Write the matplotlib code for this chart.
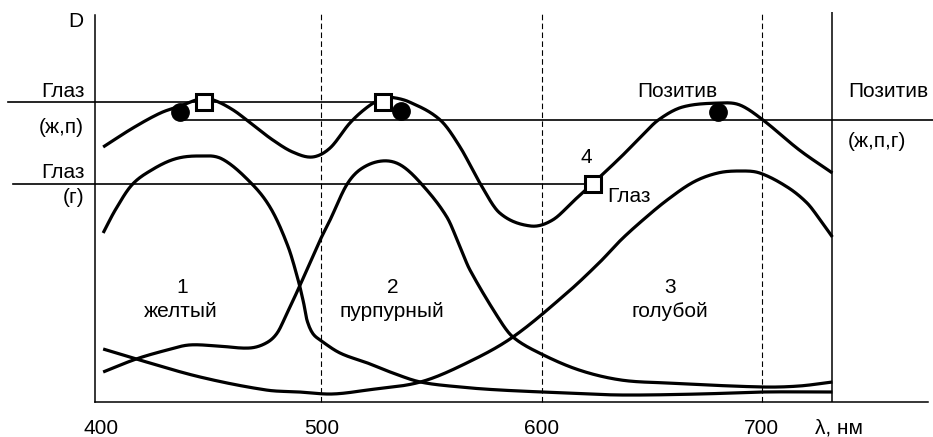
import numpy as np
import matplotlib
matplotlib.use('Agg')
import matplotlib.pyplot as plt

plt.rcParams['font.family'] = ['Liberation Sans', 'DejaVu Sans']
plt.rcParams['font.size'] = 15

# summary density of the positive (sum of the three dyes)
sum_wl = [401, 414.5, 427, 436, 445, 451, 460, 469, 478, 487, 496, 504, 513, 521, 528,
          531, 540, 554, 563, 572, 581, 595, 605, 615, 623, 636, 645, 653, 664, 681,
          690, 700.5, 717, 732]
sum_d = [2.55, 2.74, 2.89, 2.96, 3.03, 3.02, 2.92, 2.77, 2.62, 2.50, 2.45, 2.54, 2.79, 2.95, 3.04,
         3.05, 3.00, 2.82, 2.55, 2.19, 1.89, 1.76, 1.82, 2.02, 2.18, 2.45, 2.65, 2.82, 2.95, 2.99,
         2.97, 2.82, 2.52, 2.29]

# 1 - yellow dye
yel_wl = [401, 406.5, 414, 423, 433.5, 444, 455, 469, 477.5, 485, 489.5, 492, 493.5, 496,
          499.5, 508.5, 521, 532.5, 545, 563, 581, 611.5, 636, 672, 700.5, 732]
yel_d = [1.69, 1.92, 2.17, 2.32, 2.43, 2.46, 2.43, 2.17, 1.92, 1.55, 1.22, 0.99, 0.82, 0.69,
         0.62, 0.49, 0.39, 0.29, 0.20, 0.15, 0.12, 0.09, 0.07, 0.08, 0.10, 0.10]

# 2 - magenta dye
mag_wl = [401, 416, 430, 440, 453, 467.5, 475, 480, 484.5, 490, 499.5, 504, 511.5, 518, 527.5,
          536, 545.5, 557, 563, 567.5, 581, 587, 599, 617, 636, 657, 700.5, 717, 732]
mag_d = [0.30, 0.43, 0.52, 0.57, 0.56, 0.54, 0.59, 0.69, 0.89, 1.15, 1.62, 1.82, 2.17, 2.33, 2.41,
         2.37, 2.18, 1.85, 1.55, 1.32, 0.82, 0.65, 0.49, 0.32, 0.22, 0.19, 0.15, 0.16, 0.20]

# 3 - cyan dye
cyan_wl = [401, 416, 445, 475, 490, 505, 521, 545, 566, 587, 611.5, 626.5, 636, 646, 657,
           669, 680, 690, 699, 711.5, 720.5, 726.5, 732]
cyan_d = [0.53, 0.43, 0.25, 0.12, 0.10, 0.08, 0.12, 0.20, 0.39, 0.65, 1.09, 1.40, 1.62, 1.82, 2.02,
          2.20, 2.29, 2.31, 2.29, 2.15, 1.99, 1.82, 1.65]

# reference levels
eye_yp = 3.00      # Глаз (ж,п)
eye_c = 2.18       # Глаз (г)
positive = 2.82    # Позитив (ж,п,г)

sq_wl = [447, 528, 623.3]
sq_d = [3.00, 3.00, 2.18]
dot_wl = [436, 536, 680]
dot_d = [2.90, 2.91, 2.90]

tick_wl = [400, 500, 600, 700, 735]
tick_txt = ['400', '500', '600', '700', 'λ, нм']


def smooth(x, y, n=800):
    # cubic Hermite with finite-difference slopes, only to draw a smooth line through the points
    x = np.asarray(x, float)
    y = np.asarray(y, float)
    h = np.diff(x)
    m = np.empty_like(y)
    m[1:-1] = (y[2:] - y[:-2]) / (x[2:] - x[:-2])
    m[0] = (y[1] - y[0]) / h[0]
    m[-1] = (y[-1] - y[-2]) / h[-1]
    xs = np.linspace(x[0], x[-1], n)
    i = np.clip(np.searchsorted(x, xs) - 1, 0, len(h) - 1)
    t = (xs - x[i]) / h[i]
    ys = ((2 * t**3 - 3 * t**2 + 1) * y[i] + (t**3 - 2 * t**2 + t) * h[i] * m[i]
          + (-2 * t**3 + 3 * t**2) * y[i + 1] + (t**3 - t**2) * h[i] * m[i + 1])
    return xs, ys


fig = plt.figure(figsize=(9.33, 4.37), dpi=100)
ax = fig.add_axes([95 / 933, 35 / 437, 833 / 933, 387 / 437])
ax.set_xlim(397.3, 775.4)
ax.set_ylim(0, 3.87)

for s in ['top', 'right']:
    ax.spines[s].set_visible(False)
for s in ['left', 'bottom']:
    ax.spines[s].set_linewidth(1.1)
ax.set_yticks([])
ax.set_xticks(tick_wl)
ax.set_xticklabels(tick_txt)
ax.tick_params(axis='x', length=0, pad=12, labelsize=15)

# grid of wavelengths
ax.vlines([500, 600, 700], 0, 3.9, colors='black', linewidth=0.8,
          linestyles=(0, (5, 3)), clip_on=False)
ax.vlines(732, 0, 3.9, colors='black', linewidth=1.1, clip_on=False)

# horizontal levels
ax.plot([357.8, sq_wl[1]], [eye_yp, eye_yp], color='black', lw=1.2, clip_on=False)
ax.plot([dot_wl[0], 777.7], [positive, positive], color='black', lw=1.2, clip_on=False)
ax.plot([360, sq_wl[2]], [eye_c, eye_c], color='black', lw=1.2, clip_on=False)

for wl, d in [(sum_wl, sum_d), (yel_wl, yel_d), (mag_wl, mag_d), (cyan_wl, cyan_d)]:
    xs, ys = smooth(wl, d)
    ax.plot(xs, ys, color='black', lw=2.3, solid_capstyle='butt', clip_on=False)

ax.plot(dot_wl, dot_d, 'o', color='black', ms=12.5, zorder=5)
ax.plot(sq_wl, sq_d, 's', mfc='white', mec='black', mew=2.2, ms=11.5, zorder=6, clip_on=False)

txt = dict(color='black', fontsize=15, va='baseline', clip_on=False)
ax.text(388.7, 3.75, 'D', ha='center', **txt)
ax.text(392.7, 3.05, 'Глаз', ha='right', **txt)
ax.text(392.3, 2.69, '(ж,п)', ha='right', **txt)
ax.text(392.7, 2.24, 'Глаз', ha='right', **txt)
ax.text(392.3, 1.99, '(г)', ha='right', **txt)
ax.text(661.4, 3.05, 'Позитив', ha='center', **txt)
ax.text(739.1, 3.05, 'Позитив', ha='left', **txt)
ax.text(739.1, 2.55, '(ж,п,г)', ha='left', **txt)
ax.text(620.1, 2.39, '4', ha='center', **txt)
ax.text(629.7, 2.00, 'Глаз', ha='left', **txt)
ax.text(436.8, 1.09, '1', ha='center', **txt)
ax.text(436.3, 0.85, 'желтый', ha='center', **txt)
ax.text(532.5, 1.09, '2', ha='center', **txt)
ax.text(532.1, 0.85, 'пурпурный', ha='center', **txt)
ax.text(658.3, 1.09, '3', ha='center', **txt)
ax.text(658.3, 0.85, 'голубой', ha='center', **txt)

fig.savefig('out.png', dpi=100)
